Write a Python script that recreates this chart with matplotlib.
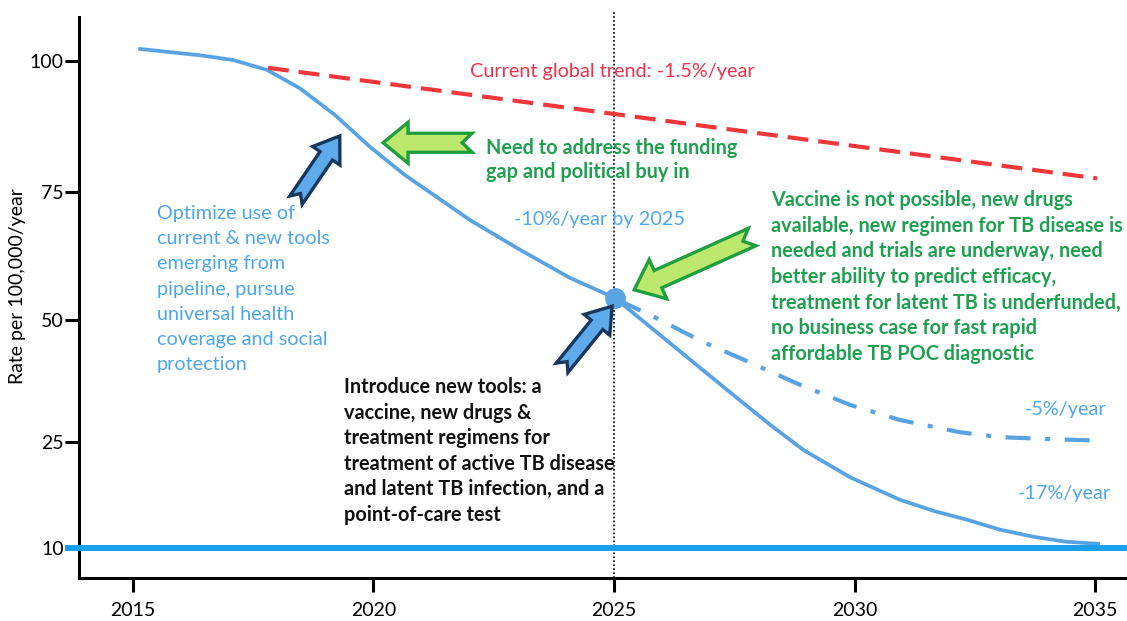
import numpy as np
import matplotlib
matplotlib.use("Agg")
import matplotlib.pyplot as plt
from matplotlib.patches import Polygon
from matplotlib.transforms import IdentityTransform

plt.rcParams['font.family'] = ['Lato', 'DejaVu Sans']

# solid projection curve (year, rate)
main_years = [2015.15, 2015.77, 2016.39, 2017.08, 2017.79, 2018.47, 2019.20, 2019.93,
              2020.66, 2021.32, 2022.01, 2023.05, 2024.09, 2025.02, 2025.96, 2026.79,
              2027.56, 2028.25, 2028.93, 2029.91, 2030.95, 2031.67, 2032.34, 2033.02,
              2033.71, 2034.38, 2035.06]
main_rate = [102.3, 101.7, 101.1, 100.2, 98.3, 94.8, 89.7, 83.6,
             78.2, 74.0, 69.5, 63.7, 58.2, 54.3, 46.9, 40.2,
             34.0, 28.5, 23.9, 20.0, 16.8, 15.2, 14.0, 12.6,
             11.6, 10.9, 10.6]

# current global trend (-1.5%/year)
trend_years = [2017.81, 2035.04]
trend_rate = [98.7, 77.6]

# -5%/year branch after 2025
alt_years = [2025.08, 2025.75, 2026.85, 2027.62, 2028.87, 2029.91, 2030.95, 2032.19, 2033.02, 2034.06, 2035.04]
alt_rate = [53.9, 51.0, 45.5, 42.2, 36.7, 32.6, 29.5, 27.0, 26.0, 25.6, 25.3]

target_rate = 10
milestone_year, milestone_rate = 2025.02, 54.3

x_ticks = [2015, 2020, 2025, 2030, 2035]
y_ticks = [10, 25, 50, 75, 100]

# the drawn axis is not linear: where each value sits along it
y_knots = [0, 10, 25, 50, 75, 100, 120]
y_knot_pos = [2.3, 73, 179, 301, 429, 560, 664.8]


def fwd(v):
    return np.interp(v, y_knots, y_knot_pos)


def inv(p):
    return np.interp(p, y_knot_pos, y_knots)


W, H = 1127, 621
fig = plt.figure(figsize=(W / 100, H / 100), dpi=100)
ax = fig.add_axes([79 / W, 43 / H, 1046 / W, 561 / H])
ax.set_yscale('function', functions=(fwd, inv))
ax.set_xlim(2013.88, 2035.62)
ax.set_ylim(5.76, 108.4)

blue = '#5aa3e3'
ax.plot(main_years, main_rate, color=blue, lw=2.7, solid_joinstyle='round', zorder=3)
ax.plot(trend_years, trend_rate, color='#f0383c', lw=3, dashes=(5, 2.4), zorder=3)
ax.plot(alt_years, alt_rate, color=blue, lw=3, dashes=(6, 3.5, 1.2, 3.5), zorder=3)
ax.plot([milestone_year], [milestone_rate], 'o', color=blue, ms=14, zorder=4)
ax.axhline(target_rate, xmin=-0.0105, xmax=1, color='#18a0ea', lw=4.3, clip_on=False, zorder=3)
ax.axvline(2025, ymin=0, ymax=1.012, color='#222222', lw=1.3, ls=(0, (1, 1.2)), clip_on=False, zorder=2)

for s in ['top', 'right']:
    ax.spines[s].set_visible(False)
for s in ['left', 'bottom']:
    ax.spines[s].set_linewidth(2.2)
ax.set_xticks(x_ticks)
ax.set_yticks(y_ticks)
ax.set_yticklabels([str(v) for v in y_ticks])
ax.set_xticklabels([str(v) for v in x_ticks])
ax.tick_params(axis='y', length=10, width=2.2, pad=1, labelsize=14)
ax.tick_params(axis='x', length=10, width=2.2, pad=7, labelsize=14)
ax.set_ylabel('Rate per 100,000/year', fontsize=14)
ax.yaxis.set_label_coords(-0.0507, 0.52)


def px(x, y):
    return x / W, 1 - y / H


def block_arrow(tail, tip, shaft, head_w, head_len, notch, face, edge):
    p0 = ax.transData.transform(tail)
    p1 = ax.transData.transform(tip)
    u = (p1 - p0) / np.hypot(*(p1 - p0))
    n = np.array([-u[1], u[0]])
    base = p1 - u * head_len
    pts = [p0 + n * shaft / 2, base + n * shaft / 2, base + n * head_w / 2, p1,
           base - n * head_w / 2, base - n * shaft / 2, p0 - n * shaft / 2, p0 + u * notch]
    fig.add_artist(Polygon(pts, closed=True, transform=IdentityTransform(),
                           facecolor=face, edgecolor=edge, lw=2.4, joinstyle='miter', zorder=5))


block_arrow((2018.39, 73.4), (2019.30, 85.7), 15, 33, 24, 8, '#5eaaea', '#17375e')
block_arrow((2023.92, 40.2), (2024.96, 52.7), 15, 33, 24, 8, '#5eaaea', '#17375e')
block_arrow((2022.05, 84.4), (2020.20, 84.4), 19, 41, 25, 10, '#bde86e', '#1e9e3c')
block_arrow((2027.87, 66.2), (2025.42, 55.9), 19, 43, 26, 10, '#bde86e', '#1e9e3c')

green = '#1ea050'
lblue = '#4ea6ee'
fs = 14.3
fig.text(*px(470, 72), 'Current global trend: -1.5%/year', color='#f0334a', fontsize=fs, va='center')
fig.text(*px(486, 160), 'Need to address the funding\ngap and political buy in',
         color=green, fontsize=fs, fontweight='bold', va='center', linespacing=1.27)
fig.text(*px(157, 289), 'Optimize use of\ncurrent & new tools\nemerging from\npipeline, pursue\n'
         'universal health\ncoverage and social\nprotection',
         color=lblue, fontsize=fs, va='center', linespacing=1.58)
fig.text(*px(514, 219), '-10%/year by 2025', color=lblue, fontsize=fs, va='center')
fig.text(*px(771, 277), 'Vaccine is not possible, new drugs\navailable, new regimen for TB disease is\n'
         'needed and trials are underway, need\nbetter ability to predict efficacy,\n'
         'treatment for latent TB is underfunded,\nno business case for fast rapid\n'
         'affordable TB POC diagnostic',
         color=green, fontsize=fs, fontweight='bold', va='center', linespacing=1.35)
fig.text(*px(344, 451), 'Introduce new tools: a\nvaccine, new drugs &\ntreatment regimens for\n'
         'treatment of active TB disease\nand latent TB infection, and a\npoint-of-care test',
         color='#111111', fontsize=fs, fontweight='bold', va='center', linespacing=1.35)
fig.text(*px(1025, 410), '-5%/year', color=lblue, fontsize=fs, va='center')
fig.text(*px(1018, 493), '-17%/year', color=lblue, fontsize=fs, va='center')

fig.savefig('out.png', dpi=100)
